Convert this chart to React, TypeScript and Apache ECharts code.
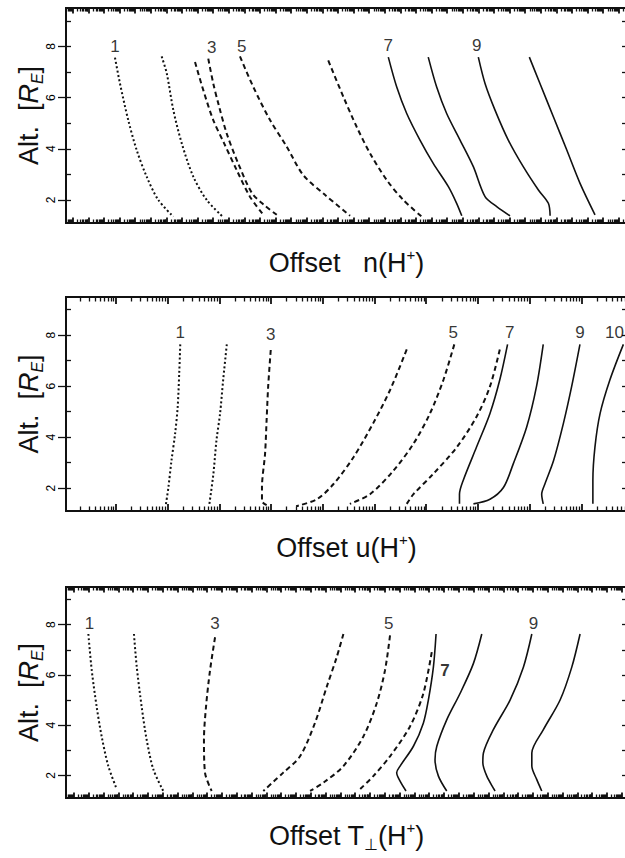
import React, { useEffect, useRef } from "react";
import * as echarts from "echarts";

const INK = "#111111";
const FONT = '"Liberation Sans", Arial, Helvetica, sans-serif';

// ---- axis ticks / labels ----
const Y_MIN = 1.1;
const Y_MAX = 9.5;
const Y_TICKS = [2, 4, 6, 8];
const Y_MINOR = [2, 3, 4, 5, 6, 7, 8, 9];

const CURVE_NAMES = ["1", "2", "3", "4", "5", "6", "7", "8", "9", "10"];
const CURVE_DASH = ["dotted", "dotted", "dashed", "dashed", "dashed", "dashed", "solid", "solid", "solid", "solid"];

// ---- panel 1: Offset n(H+) ; x in decades of offset, y altitude R_E ----
const N1 = [[3.14, 7.56], [3.46, 6.55], [3.99, 5.12], [4.53, 3.95], [5.17, 2.91], [5.92, 2.0], [6.88, 1.35]];
const N2 = [[6.13, 7.61], [6.46, 6.94], [6.88, 5.51], [7.42, 4.21], [8.16, 2.91], [9.02, 2.0], [10.04, 1.35]];
const N3 = [[8.27, 7.39], [8.8, 6.29], [9.44, 5.12], [10.13, 4.22], [10.94, 3.17], [11.79, 2.13], [12.65, 1.42]];
const N4 = [[9.12, 7.52], [9.44, 6.55], [9.81, 5.66], [10.3, 4.6], [11.03, 3.44], [11.92, 2.27], [12.69, 1.81], [13.51, 1.42]];
const N5 = [[11.15, 7.61], [12.01, 6.41], [13.08, 5.12], [14.15, 4.08], [15.21, 2.97], [16.6, 2.2], [18.21, 1.38]];
const N6 = [[16.81, 7.45], [17.78, 6.03], [18.63, 4.86], [19.49, 3.82], [20.56, 2.78], [21.62, 2.0], [22.8, 1.35]];
const N7 = [[20.66, 7.58], [21.2, 6.41], [21.84, 5.38], [22.69, 4.34], [23.54, 3.43], [24.51, 2.52], [25.04, 1.87], [25.37, 1.38]];
const N8 = [[23.22, 7.58], [23.76, 6.41], [24.4, 5.38], [25.26, 4.34], [26.11, 3.3], [26.86, 2.13], [27.61, 1.74], [28.46, 1.38]];
const N9 = [[26.43, 7.58], [26.86, 6.55], [27.5, 5.51], [28.35, 4.34], [29.31, 3.3], [30.28, 2.39], [30.92, 1.87], [31.03, 1.38]];
const N10 = [[29.7, 7.58], [30.38, 6.55], [31.24, 5.25], [32.1, 3.95], [32.95, 2.65], [33.91, 1.42]];
const N_LABELS: [string, number, number, boolean][] = [
  ["1", 3.14, 8.0, false], ["3", 9.34, 7.97, false], ["5", 11.26, 8.0, false], ["7", 20.66, 8.04, false], ["9", 26.33, 8.04, false],
];

// ---- panel 2: Offset u(H+) ----
const U1 = [[2.21, 7.64], [2.19, 6.52], [2.16, 5.19], [2.11, 4.13], [2.04, 3.08], [1.98, 2.02], [1.93, 1.33]];
const U2 = [[3.11, 7.64], [3.04, 6.25], [2.98, 4.93], [2.91, 3.87], [2.85, 2.55], [2.77, 1.33]];
const U3 = [[3.96, 7.42], [3.91, 5.99], [3.88, 4.67], [3.85, 3.35], [3.79, 2.02], [3.79, 1.49], [3.88, 1.33]];
const U4 = [[6.59, 7.44], [6.27, 5.86], [5.94, 4.54], [5.56, 3.21], [5.17, 2.15], [4.85, 1.56], [4.45, 1.29]];
const U5 = [[7.51, 7.64], [7.3, 6.25], [7.04, 4.93], [6.72, 3.74], [6.33, 2.68], [5.88, 1.76], [5.49, 1.38]];
const U6 = [[8.39, 7.44], [8.2, 5.99], [7.94, 4.8], [7.56, 3.61], [7.1, 2.55], [6.72, 1.76], [6.59, 1.38]];
const U7 = [[8.54, 7.64], [8.39, 6.25], [8.2, 4.93], [7.94, 3.61], [7.68, 2.29], [7.61, 1.76], [7.61, 1.38]];
const U8 = [[9.23, 7.64], [9.1, 5.99], [8.91, 4.4], [8.65, 2.95], [8.46, 2.02], [8.2, 1.56], [7.88, 1.38]];
const U9 = [[9.94, 7.64], [9.78, 5.99], [9.62, 4.54], [9.43, 3.08], [9.26, 2.15], [9.2, 1.76], [9.23, 1.38]];
const U10 = [[10.78, 7.64], [10.52, 6.25], [10.33, 4.93], [10.23, 3.61], [10.19, 2.29], [10.19, 1.38]];
const U_LABELS: [string, number, number, boolean][] = [
  ["1", 2.21, 8.1, false], ["3", 3.96, 8.04, false], ["5", 7.49, 8.1, false], ["7", 8.58, 8.1, false], ["9", 9.94, 8.1, false], ["10", 10.79, 8.1, false],
];

// ---- panel 3: Offset T_perp(H+) ----
const T1 = [[1.51, 7.63], [1.74, 6.18], [2.07, 4.74], [2.41, 3.55], [2.86, 2.37], [3.43, 1.45]];
const T2 = [[4.59, 7.63], [4.78, 6.32], [5.11, 4.74], [5.45, 3.42], [5.9, 2.24], [6.57, 1.38]];
const T3 = [[10.07, 7.5], [9.73, 6.18], [9.46, 4.74], [9.32, 3.42], [9.39, 2.11], [9.84, 1.38]];
const T4 = [[18.74, 7.63], [18.29, 6.71], [17.61, 5.52], [16.82, 4.09], [15.81, 2.76], [14.68, 2.11], [13.33, 1.38]];
const T5 = [[21.89, 7.57], [21.55, 6.18], [20.99, 4.87], [20.09, 3.55], [18.74, 2.37], [17.39, 1.71], [16.49, 1.38]];
const T6 = [[24.71, 6.91], [24.14, 5.26], [23.24, 3.95], [21.89, 2.76], [20.76, 1.97], [19.86, 1.45]];
const T7 = [[25.0, 7.63], [24.82, 6.31], [24.48, 5.0], [24.14, 4.08], [23.47, 3.16], [22.57, 2.37], [22.34, 2.11], [22.57, 1.77], [22.97, 1.38]];
const T8 = [[28.09, 7.63], [27.52, 6.45], [26.62, 5.26], [25.72, 4.21], [25.05, 3.16], [24.93, 2.63], [25.16, 1.97], [25.72, 1.38]];
const T9 = [[31.47, 7.63], [30.9, 6.31], [30.0, 5.0], [28.87, 3.82], [28.2, 2.89], [28.16, 2.5], [28.43, 1.97], [28.99, 1.38]];
const T10 = [[34.73, 7.63], [34.17, 6.31], [33.38, 5.0], [32.25, 3.82], [31.47, 2.89], [31.47, 2.37], [31.8, 1.84], [32.14, 1.38]];
const T_LABELS: [string, number, number, boolean][] = [
  ["1", 1.58, 8.05, false], ["3", 10.07, 8.05, false], ["5", 21.8, 8.05, false], ["7", 25.61, 6.18, true], ["9", 31.58, 8.05, false],
];

const TITLES = [
  "{a|Offset   n(H}{sup|+}{a|)}",
  "{a|Offset u(H}{sup|+}{a|)}",
  "{a|Offset T}{sub|\u22A5}{a|(H}{sup|+}{a|)}",
];

// layout of the three panels (pixels) and x-axis scale (decades across the frame)
const PANELS = [
  { top: 8, height: 215, xMax: 35.96, phase: 1.43, nameGap: 24, majLen: 5.5, minLen: 3.5, curves: [N1, N2, N3, N4, N5, N6, N7, N8, N9, N10], labels: N_LABELS },
  { top: 297, height: 214, xMax: 10.85, phase: 0.967, nameGap: 21, majLen: 7, minLen: 4.5, curves: [U1, U2, U3, U4, U5, U6, U7, U8, U9, U10], labels: U_LABELS },
  { top: 587, height: 211, xMax: 37.9, phase: 0.54, nameGap: 22, majLen: 5.5, minLen: 3.5, curves: [T1, T2, T3, T4, T5, T6, T7, T8, T9, T10], labels: T_LABELS },
];

function logTicks(max: number, phase: number) {
  const majors: number[] = [];
  const minors: number[] = [];
  for (let k = -2; k < max + 2; k++) {
    const base = phase + k;
    if (base >= 0 && base <= max) majors.push(base);
    for (let m = 2; m <= 9; m++) {
      const t = base + Math.log10(m);
      if (t >= 0 && t <= max) minors.push(t);
    }
  }
  return { majors, minors };
}

const titleRich = {
  a: { fontSize: 27, fontFamily: FONT, color: INK, lineHeight: 32 },
  sup: { fontSize: 15, fontFamily: FONT, color: INK, verticalAlign: "top", lineHeight: 32 },
  sub: { fontSize: 16, fontFamily: "DejaVu Sans", color: INK, verticalAlign: "bottom", lineHeight: 32 },
};

const yNameRich = {
  a: { fontSize: 27, fontFamily: FONT, color: INK, lineHeight: 32 },
  i: { fontSize: 27, fontFamily: FONT, fontStyle: "italic", color: INK, lineHeight: 32 },
  s: { fontSize: 16, fontFamily: FONT, fontStyle: "italic", color: INK, verticalAlign: "bottom", lineHeight: 32 },
};

function buildOption() {
  const grid: any[] = [];
  const xAxis: any[] = [];
  const yAxis: any[] = [];
  const series: any[] = [];

  PANELS.forEach((p, pi) => {
    grid.push({ left: 66, right: -2, top: p.top, height: p.height, containLabel: false, outerBoundsMode: "none" });
    const { majors, minors } = logTicks(p.xMax, p.phase);
    const xBase = {
      type: "value",
      gridIndex: pi,
      min: 0,
      max: p.xMax,
      splitLine: { show: false },
      axisLabel: { show: false },
      axisLine: { show: true, onZero: false, lineStyle: { color: INK, width: 2 } },
    };
    xAxis.push({
      ...xBase,
      position: "bottom",
      axisTick: { show: true, inside: true, length: p.minLen, customValues: minors, lineStyle: { color: INK, width: 1.3 } },
      name: TITLES[pi],
      nameLocation: "middle",
      nameGap: p.nameGap,
      nameTextStyle: { rich: titleRich },
    });
    xAxis.push({
      ...xBase,
      position: "bottom",
      axisTick: { show: true, inside: true, length: p.majLen, customValues: majors, lineStyle: { color: INK, width: 1.8 } },
    });
    xAxis.push({
      ...xBase,
      position: "top",
      axisTick: { show: true, inside: true, length: p.minLen, customValues: minors, lineStyle: { color: INK, width: 1.3 } },
    });
    xAxis.push({
      ...xBase,
      position: "top",
      axisTick: { show: true, inside: true, length: p.majLen, customValues: majors, lineStyle: { color: INK, width: 1.8 } },
    });

    const yBase = {
      type: "value",
      gridIndex: pi,
      min: Y_MIN,
      max: Y_MAX,
      splitLine: { show: false },
    };
    yAxis.push({
      ...yBase,
      position: "left",
      axisLine: { show: true, onZero: false, lineStyle: { color: INK, width: 2 } },
      axisTick: { show: true, inside: false, length: 8, customValues: Y_TICKS, lineStyle: { color: INK, width: 1.3 } },
      axisLabel: { show: false },
      name: "{a|Alt.  [}{i|R}{s|E}{a|]}",
      nameLocation: "middle",
      nameRotate: 90,
      nameGap: 21,
      nameTextStyle: { rich: yNameRich },
    });
    yAxis.push({
      ...yBase,
      position: "left",
      axisLine: { show: false, onZero: false },
      axisTick: { show: true, inside: true, length: 5, customValues: Y_MINOR, lineStyle: { color: INK, width: 1.3 } },
      axisLabel: { show: false },
    });
    yAxis.push({
      ...yBase,
      position: "right",
      axisLine: { show: true, onZero: false, lineStyle: { color: INK, width: 2 } },
      axisTick: { show: true, inside: true, length: 5, customValues: Y_MINOR, lineStyle: { color: INK, width: 1.3 } },
      axisLabel: { show: false },
    });

    p.curves.forEach((c, ci) => {
      const kind = CURVE_DASH[ci];
      const dash = kind === "dotted" ? [2, 2.4] : kind === "dashed" ? [5, 3.5] : "solid";
      series.push({
        type: "line",
        name: `${pi}-${CURVE_NAMES[ci]}`,
        xAxisIndex: pi * 4,
        yAxisIndex: pi * 3,
        data: c,
        symbol: "none",
        showSymbol: false,
        smooth: 0.3,
        silent: true,
        lineStyle: { color: INK, width: kind === "solid" ? 1.6 : 2, type: dash, cap: "butt" },
      });
    });

    // curve labels
    series.push({
      type: "scatter",
      xAxisIndex: pi * 4,
      yAxisIndex: pi * 3,
      symbolSize: 0,
      silent: true,
      clip: false,
      itemStyle: { color: "rgba(0,0,0,0)" },
      data: p.labels.map(([t, u, v, b]) => ({
        value: [u, v],
        name: t,
        label: t === "10" ? { align: "right" } : { fontWeight: b ? "bold" : "normal" },
      })),
      label: { show: true, position: "inside", formatter: "{b}", fontSize: 17, color: "#000", fontFamily: FONT },
    });
  });

  return {
    animation: false,
    backgroundColor: "#ffffff",
    grid,
    xAxis,
    yAxis,
    series,
  };
}

export default function App() {
  const ref = useRef<HTMLDivElement>(null);
  useEffect(() => {
    document.body.style.margin = "0";
    if (!ref.current) return;
    const chart = echarts.init(ref.current, undefined, { renderer: "svg" });
    chart.setOption(buildOption() as any);
    // rotated y tick labels, placed through the axes' own scales
    const graphic: any[] = [];
    PANELS.forEach((_p, pi) => {
      Y_TICKS.forEach((v) => {
        const pt = chart.convertToPixel({ xAxisIndex: pi * 4, yAxisIndex: pi * 3 } as any, [0, v]) as number[];
        if (!pt) return;
        graphic.push({
          type: "text",
          x: pt[0] - 15,
          y: pt[1],
          rotation: Math.PI / 2,
          silent: true,
          style: {
            text: String(v),
            fontSize: 12,
            fontFamily: FONT,
            fill: "#000",
            align: "center",
            verticalAlign: "middle",
          },
        });
      });
    });
    chart.setOption({ graphic });
    return () => chart.dispose();
  }, []);
  return <div ref={ref} style={{ width: 625, height: 858, background: "#fff", overflow: "hidden" }} />;
}
